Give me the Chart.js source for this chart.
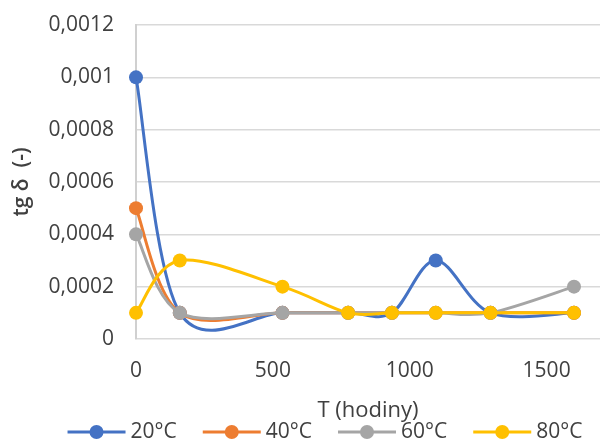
<!DOCTYPE html>
<html>
<head>
<meta charset="utf-8">
<script src="https://cdn.jsdelivr.net/npm/chart.js@4/dist/chart.umd.min.js"></script>
<style>
html,body{margin:0;padding:0;background:#fff;}
#wrap{width:600px;height:442px;}
</style>
</head>
<body>
<div id="wrap"><canvas id="c" width="600" height="442"></canvas></div>
<script>
const hours = [0, 160, 535, 775, 935, 1095, 1295, 1600];
const s20 = [0.001, 0.0001, 0.0001, 0.0001, 0.0001, 0.0003, 0.0001, 0.0001];
const s40 = [0.0005, 0.0001, 0.0001, 0.0001, 0.0001, 0.0001, 0.0001, 0.0001];
const s60 = [0.0004, 0.0001, 0.0001, 0.0001, 0.0001, 0.0001, 0.0001, 0.0002];
const s80 = [0.0001, 0.0003, 0.0002, 0.0001, 0.0001, 0.0001, 0.0001, 0.0001];
const seriesNames = ['20°C', '40°C', '60°C', '80°C'];
const seriesColors = ['#4472C4', '#ED7D31', '#A5A5A5', '#FFC000'];
const yTicks = [0, 0.0002, 0.0004, 0.0006, 0.0008, 0.001, 0.0012];
const xTicks = [0, 500, 1000, 1500];

const FONT = "'Open Sans', sans-serif";
const TXT = '#404040';

function mk(i, vals) {
  return {
    label: seriesNames[i],
    data: hours.map((h, k) => ({x: h, y: vals[k]})),
    borderColor: seriesColors[i],
    backgroundColor: seriesColors[i],
    borderWidth: 3,
    pointRadius: 7,
    pointHoverRadius: 7,
    pointBorderWidth: 0,
    tension: 0.4,
    showLine: true,
    clip: false,
    order: 3 - i
  };
}

// Excel-like (uniform Catmull-Rom) smoothing applied to the library's own point positions
const smoothPlugin = {
  id: 'excelSmooth',
  beforeDatasetDraw(chart, args) {
    const meta = args.meta;
    const line = meta.dataset;
    if (!line) return;
    line.updateControlPoints(chart.chartArea, 'x');
    const pts = meta.data;
    const n = pts.length;
    for (let i = 0; i < n; i++) {
      const p = pts[i];
      const prev = pts[Math.max(0, i - 1)];
      const next = pts[Math.min(n - 1, i + 1)];
      const dx = (next.x - prev.x) / 6, dy = (next.y - prev.y) / 6;
      p.cp1x = p.x - dx; p.cp1y = p.y - dy;
      p.cp2x = p.x + dx; p.cp2y = p.y + dy;
    }
    line._path = undefined;
  }
};

const legendPlugin = {
  id: 'customLegend',
  afterDraw(chart) {
    const ctx = chart.ctx;
    ctx.save();
    ctx.font = "21px " + FONT;
    const lineLen = 58, gap = 5, spacing = 26;
    const items = chart.data.datasets.map(d => ({d, w: ctx.measureText(d.label).width}));
    const total = items.reduce((a, it) => a + lineLen + gap + it.w, 0) + spacing * (items.length - 1);
    let x = 325 - total / 2;
    const y = 432;
    items.forEach(it => {
      ctx.strokeStyle = it.d.borderColor;
      ctx.lineWidth = 3;
      ctx.beginPath();
      ctx.moveTo(x, y);
      ctx.lineTo(x + lineLen, y);
      ctx.stroke();
      ctx.fillStyle = it.d.borderColor;
      ctx.beginPath();
      ctx.arc(x + lineLen / 2, y, 7, 0, Math.PI * 2);
      ctx.fill();
      ctx.fillStyle = TXT;
      ctx.textBaseline = 'middle';
      ctx.textAlign = 'left';
      ctx.fillText(it.d.label, x + lineLen + gap, y);
      x += lineLen + gap + it.w + spacing;
    });
    ctx.restore();
  }
};

new Chart(document.getElementById('c'), {
  type: 'scatter',
  data: {datasets: [mk(0, s20), mk(1, s40), mk(2, s60), mk(3, s80)]},
  options: {
    responsive: false,
    animation: false,
    layout: {autoPadding: false, padding: {left: 0, right: 0, top: 25, bottom: 18}},
    plugins: {legend: {display: false}, tooltip: {enabled: false}},
    scales: {
      x: {
        type: 'linear', min: 0, max: 1695,
        afterBuildTicks: s => { s.ticks = xTicks.map(v => ({value: v})); },
        afterFit: s => { s.height = 85; s.paddingRight = 0; s.paddingLeft = 0; },
        grid: {display: false, drawTicks: false},
        border: {display: false},
        ticks: {font: {size: 21, family: FONT}, color: TXT, padding: 19, maxRotation: 0,
          callback: v => String(v)},
        title: {display: true, text: 'T (hodiny)', font: {size: 22, family: FONT}, color: TXT, padding: {top: 0, bottom: 0}}
      },
      y: {
        min: 0, max: 0.0012,
        afterBuildTicks: s => { s.ticks = yTicks.map(v => ({value: v})); },
        afterFit: s => { s.width = 136; s.paddingTop = 0; s.paddingBottom = 0; },
        grid: {color: '#D9D9D9', lineWidth: 1.5, drawTicks: false},
        border: {display: true, color: '#D0D0D0', width: 2},
        ticks: {
          font: {size: 21, family: FONT}, color: TXT, padding: 22,
          callback: v => String(Number(v.toFixed(4))).replace('.', ',')
        },
        title: {display: true, text: 'tg δ  (-)', font: {size: 21, family: FONT, weight: '600'}, color: TXT, padding: {top: 9, bottom: 0}}
      }
    }
  },
  plugins: [smoothPlugin, legendPlugin]
});
</script>
</body>
</html>
